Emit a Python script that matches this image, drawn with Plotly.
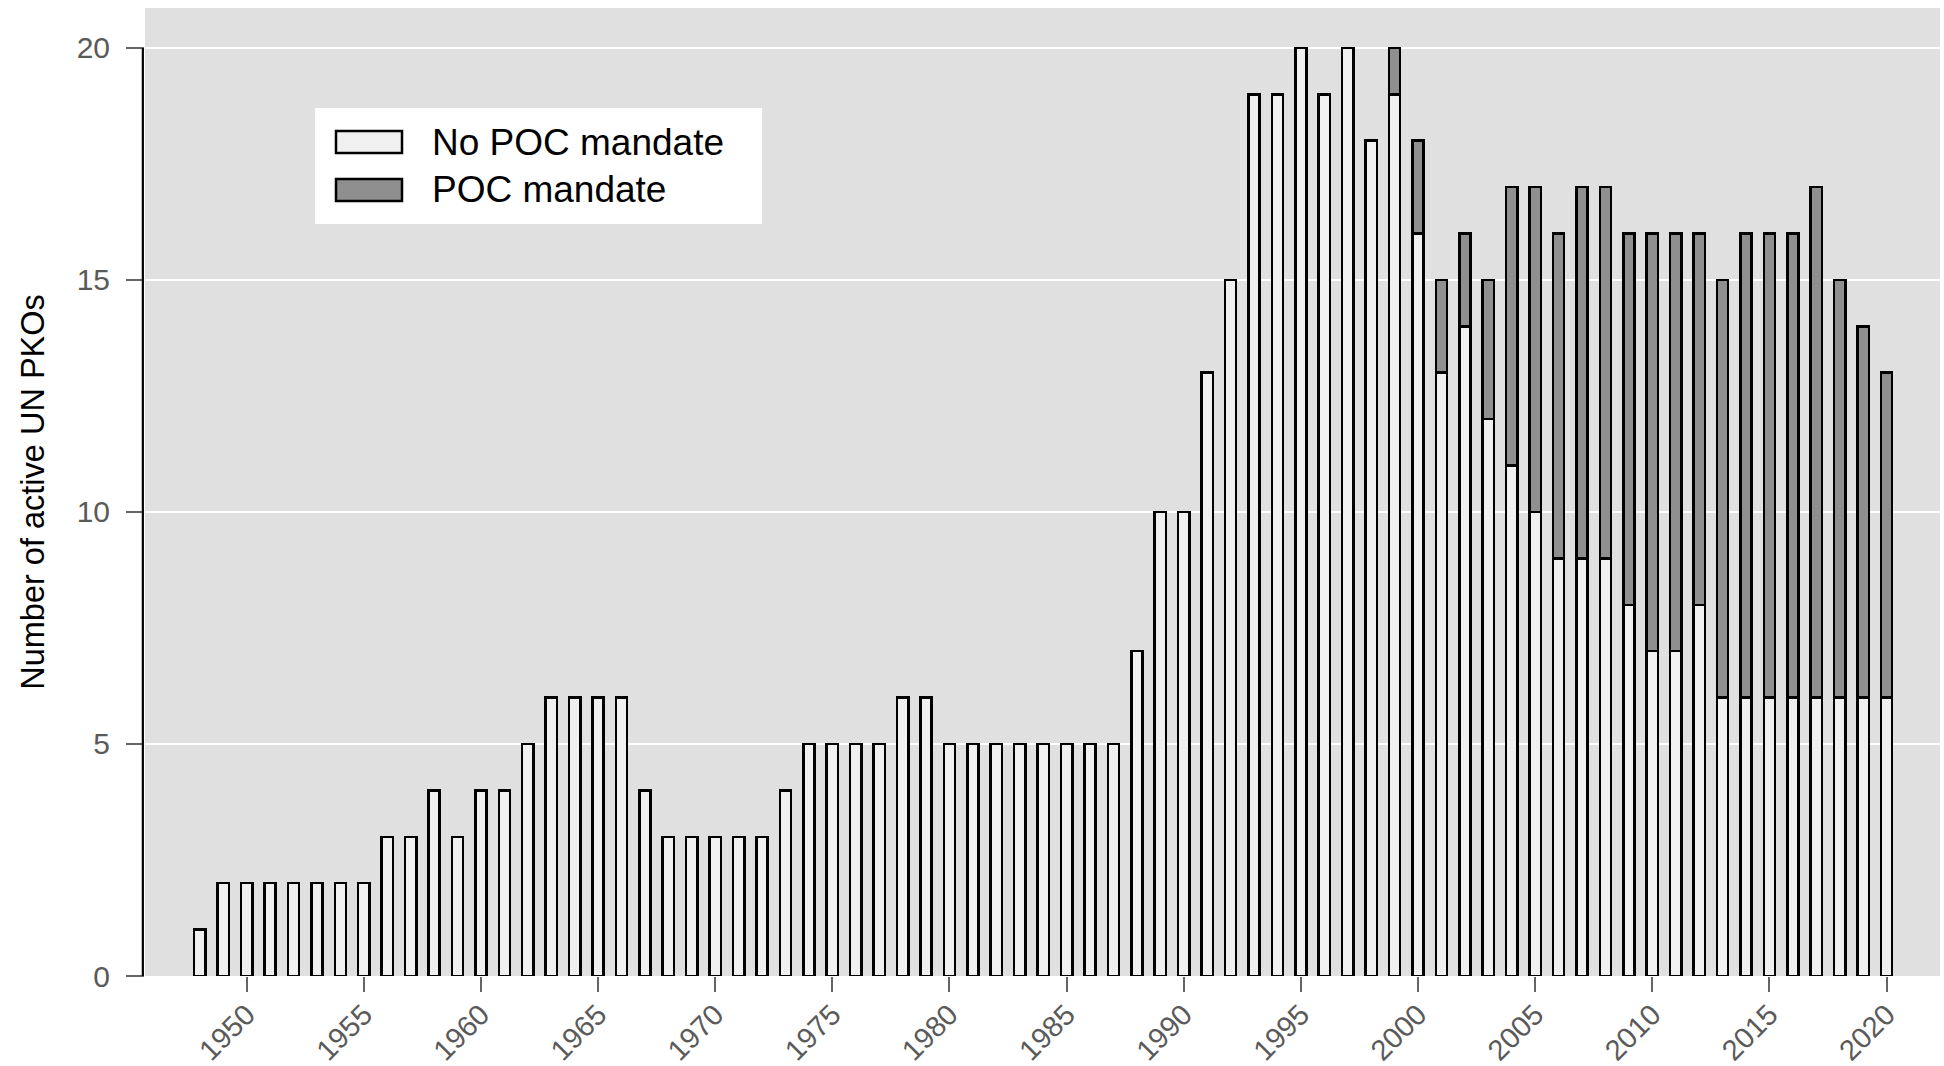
import plotly.graph_objects as go

years = list(range(1948, 2021))
no_poc = [1, 2, 2, 2, 2, 2, 2, 2, 3, 3, 4, 3, 4, 4, 5, 6, 6, 6, 6, 4,
          3, 3, 3, 3, 3, 4, 5, 5, 5, 5, 6, 6, 5, 5, 5, 5, 5, 5, 5, 5,
          7, 10, 10, 13, 15, 19, 19, 20, 19, 20, 18, 19, 16, 13, 14, 12, 11, 10,
          9, 9, 9, 8, 7, 7, 8, 6, 6, 6, 6, 6, 6, 6, 6]
poc = [None] * 51 + [1, 2, 2, 2, 3, 6, 7, 7, 8, 8, 8, 9, 9, 8, 9, 10, 10, 10, 11, 9, 8, 7]
series_names = ["No POC mandate", "POC mandate"]
x_ticks = [1950, 1955, 1960, 1965, 1970, 1975, 1980, 1985, 1990, 1995, 2000, 2005, 2010, 2015, 2020]
y_ticks = [0, 5, 10, 15, 20]
y_title = "Number of active UN PKOs"

W, H = 1944, 1066
L, R, T, B = 145, 4, 8, 90
FONT = "Liberation Sans, Arial, Helvetica, sans-serif"
colors = ["#F0F0F0", "#8F8F8F"]

fig = go.Figure()
for name, vals, col in zip(series_names, [no_poc, poc], colors):
    fig.add_trace(go.Bar(x=years, y=vals, name=name, width=0.48,
                         marker=dict(color=col, line=dict(color="black", width=2.5)),
                         showlegend=False))

fig.update_layout(
    width=W, height=H, barmode="stack",
    margin=dict(l=L, r=R, t=T, b=B),
    paper_bgcolor="white", plot_bgcolor="#E0E0E0",
    font=dict(family=FONT),
)
fig.update_xaxes(range=[1945.66, 2022.28], tickvals=x_ticks, ticktext=[str(v) for v in x_ticks],
                 tickangle=-45, ticks="outside", ticklen=15, tickwidth=2, tickcolor="#666666",
                 tickfont=dict(size=29, color="#5A5A5A", family=FONT), automargin=False,
                 ticklabelstandoff=-6,
                 showgrid=False, zeroline=False, showline=False)
fig.update_yaxes(range=[0, 20.86], tickvals=y_ticks, ticks="outside", ticklen=18, tickwidth=2,
                 tickcolor="#666666", tickfont=dict(size=30, color="#5A5A5A", family=FONT),
                 ticklabelstandoff=10, automargin=False,
                 showgrid=True, gridcolor="white", gridwidth=2, zeroline=False, showline=False,
                 title=dict(text=y_title, font=dict(size=32.5, color="black", family=FONT), standoff=22))

# capped y axis line (0..20)
fig.add_shape(type="line", xref="x domain", yref="y", x0=-0.0012, x1=-0.0012, y0=0, y1=20,
              line=dict(color="black", width=2.2))

pw, ph = W - L - R, H - T - B
def px_x(p):
    return (p - L) / pw
def px_y(p):
    return (H - B - p) / ph

# legend box
fig.add_shape(type="rect", xref="paper", yref="paper", x0=px_x(315), x1=px_x(762),
              y0=px_y(224), y1=px_y(108), fillcolor="white", line=dict(width=0), layer="above")
for i, (name, col) in enumerate(zip(series_names, colors)):
    yc = 142 + i * 48
    fig.add_shape(type="rect", xref="paper", yref="paper", x0=px_x(336), x1=px_x(402),
                  y0=px_y(yc + 11), y1=px_y(yc - 11), fillcolor=col,
                  line=dict(color="black", width=2.5), layer="above")
    fig.add_annotation(xref="paper", yref="paper", x=px_x(430), y=px_y(yc), text=name,
                       showarrow=False, xanchor="left", yanchor="middle",
                       font=dict(size=37, color="black", family=FONT))

fig.write_html("out.html", config={"displayModeBar": False},
               post_script="document.body.style.margin='0';document.body.style.overflow='hidden';")
